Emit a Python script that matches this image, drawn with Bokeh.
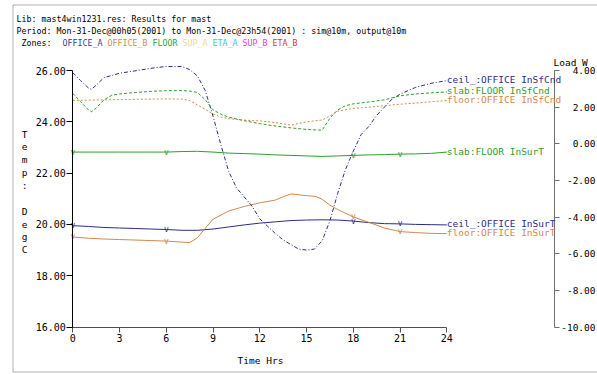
from bokeh.plotting import figure
from bokeh.models import Range1d, LinearAxis, Label, BoxAnnotation, FixedTicker, PrintfTickFormatter
from bokeh.embed import file_html
from bokeh.resources import INLINE
from bokeh.core.properties import value

MONO = "DejaVu Sans Mono"
NAVY = "#2b2b8c"
ORANGE = "#d4874c"
GREEN = "#2e9e2e"

# ---- data -------------------------------------------------------------
x_ticks = [0, 3, 6, 9, 12, 15, 18, 21, 24]
temp_ticks = [16, 18, 20, 22, 24, 26]
load_ticks = [-10, -8, -6, -4, -2, 0, 2, 4]
marker_hours = [0, 6, 18, 21]

# inside surface temperatures (degC, left axis)
ceil_insurt_h = list(range(25))
ceil_insurt = [19.95, 19.92, 19.88, 19.86, 19.84, 19.82, 19.80, 19.77, 19.77, 19.82,
               19.90, 19.98, 20.05, 20.10, 20.15, 20.17, 20.18, 20.17, 20.13, 20.07,
               20.03, 20.02, 20.00, 19.99, 19.98]

floor_insurt_h = [0, 1, 2, 3, 4, 5, 6, 7, 7.5, 8, 8.5, 9, 10, 11, 12, 13, 13.5, 14, 15,
                  15.6, 16, 16.5, 17, 18, 19, 20, 21, 22, 23, 24]
floor_insurt = [19.51, 19.46, 19.43, 19.41, 19.39, 19.37, 19.35, 19.31, 19.29, 19.48,
                19.85, 20.20, 20.52, 20.70, 20.84, 20.95, 21.08, 21.19, 21.12, 21.09,
                20.98, 20.75, 20.58, 20.29, 20.08, 19.86, 19.72, 19.68, 19.65, 19.64]

slab_insurt_h = list(range(25))
slab_insurt = [22.82, 22.82, 22.82, 22.82, 22.82, 22.82, 22.82, 22.84, 22.85, 22.82,
               22.78, 22.76, 22.74, 22.71, 22.69, 22.67, 22.65, 22.67, 22.69, 22.71,
               22.72, 22.74, 22.75, 22.77, 22.82]

# inside surface conduction (W, right axis)
ceil_insfcnd_h = [0, 0.5, 1.0, 1.2, 1.5, 2, 3, 4, 5, 6, 7, 7.5, 8, 8.5, 9, 9.5, 10, 10.5,
                  11, 11.5, 12, 12.5, 13, 13.5, 14, 14.5, 15, 15.5, 16, 16.5, 17, 17.5,
                  18, 18.5, 19, 19.5, 20, 20.5, 21, 21.5, 22, 23, 24]
ceil_insfcnd = [3.88, 3.45, 3.05, 2.97, 3.20, 3.61, 3.85, 3.98, 4.12, 4.22, 4.22, 4.05,
                3.70, 2.90, 1.50, -0.05, -1.50, -2.40, -2.90, -3.40, -4.10, -4.50, -4.90,
                -5.25, -5.50, -5.75, -5.80, -5.75, -5.30, -4.20, -2.70, -1.40, -0.40,
                0.50, 0.95, 1.55, 2.00, 2.45, 2.70, 2.90, 3.08, 3.30, 3.45]

slab_insfcnd_h = [0, 0.5, 1.0, 1.2, 1.5, 2, 2.5, 3, 4, 5, 6, 7, 7.5, 8, 8.5, 9, 9.5, 10,
                  11, 12, 13, 14, 15, 16, 16.5, 17, 17.5, 18, 19, 20, 21, 22, 23, 24]
slab_insfcnd = [2.75, 2.30, 1.85, 1.75, 1.95, 2.40, 2.65, 2.72, 2.80, 2.86, 2.90, 2.90,
                2.88, 2.80, 2.40, 1.85, 1.62, 1.45, 1.26, 1.10, 0.97, 0.87, 0.78, 0.74,
                1.40, 1.85, 2.08, 2.18, 2.28, 2.40, 2.62, 2.72, 2.78, 2.83]

floor_insfcnd_h = [0, 1, 2, 3, 4, 5, 6, 7, 7.5, 8, 8.5, 9, 9.5, 10, 11, 12, 13, 14, 15,
                   16, 16.5, 17, 18, 19, 20, 21, 22, 23, 24]
floor_insfcnd = [2.37, 2.38, 2.40, 2.41, 2.43, 2.44, 2.45, 2.44, 2.36, 2.12, 1.88, 1.62,
                 1.46, 1.37, 1.29, 1.25, 1.16, 1.02, 1.20, 1.30, 1.52, 1.78, 1.93, 2.00,
                 2.08, 2.16, 2.22, 2.30, 2.36]

zones = ["OFFICE_A", "OFFICE_B", "FLOOR", "SUP_A", "ETA_A", "SUP_B", "ETA_B"]
zone_colors = ["#3a3aa0", "#d88c50", "#30a030", "#f0d890", "#40c8c8", "#e040e0", "#d83838"]

header_lines = [
    "Lib: mast4win1231.res: Results for mast",
    "Period: Mon-31-Dec@00h05(2001) to Mon-31-Dec@23h54(2001) : sim@10m, output@10m",
]

# ---- geometry: the plot frame covers the whole canvas ------------------
W, H = 597, 374
X0_PX, PX_PER_HR = 72.3, 374 / 24.0          # where hour 0 sits, pixels per hour
T_TOP_PX, T_BOT_PX = 70.0, 326.5              # pixel rows of 26 degC and 16 degC
RIGHT_AXIS_PX = 553.7

x_start = -X0_PX / PX_PER_HR
x_end = (W - X0_PX) / PX_PER_HR
t_px = (T_BOT_PX - T_TOP_PX) / 10.0
t_range = (16 - (H - T_BOT_PX) / t_px, 26 + T_TOP_PX / t_px)
l_px = (T_BOT_PX - T_TOP_PX) / 14.0
l_range = (-10 - (H - T_BOT_PX) / l_px, 4 + T_TOP_PX / l_px)
right_axis_x = (RIGHT_AXIS_PX - X0_PX) / PX_PER_HR

p = figure(width=W, height=H, output_backend="svg", toolbar_location=None,
           x_range=Range1d(x_start, x_end), y_range=Range1d(*t_range),
           x_axis_location=None, y_axis_location=None,
           min_border=0, min_border_left=0, min_border_right=0,
           min_border_top=0, min_border_bottom=0,
           background_fill_color="white", border_fill_color="white",
           outline_line_color=None)
p.grid.visible = False
p.extra_y_ranges = {"load": Range1d(*l_range)}


def style_axis(ax, line_color, tick_out, size="10px", standoff=2):
    ax.major_tick_in = 0
    ax.major_tick_out = tick_out
    ax.minor_tick_line_color = None
    ax.axis_line_color = line_color
    ax.major_tick_line_color = line_color
    ax.major_label_text_font = MONO
    ax.major_label_text_font_size = size
    ax.major_label_text_color = "black"
    ax.major_label_standoff = standoff


xa = LinearAxis(fixed_location=16, bounds=(0, 24), ticker=FixedTicker(ticks=x_ticks))
style_axis(xa, "#505050", 5)
p.add_layout(xa, "below")

ya = LinearAxis(fixed_location=0, bounds=(16, 26), ticker=FixedTicker(ticks=temp_ticks),
                formatter=PrintfTickFormatter(format="%.2f"))
style_axis(ya, "black", 6, standoff=1)
p.add_layout(ya, "left")

load_labels = {t: ("%.2f" % t).rjust(6).replace(" ", "\u00a0") for t in load_ticks}
ra = LinearAxis(y_range_name="load", fixed_location=right_axis_x, bounds=(-10, 4),
                ticker=FixedTicker(ticks=load_ticks), major_label_overrides=load_labels)
style_axis(ra, "#707070", 5, size="9.5px", standoff=2)
p.add_layout(ra, "right")


def scr(cx, cy):
    """canvas pixel (top-left origin) -> screen units (bottom-left origin)"""
    return cx, H - cy


# outer frame
bl, bb = scr(12.5, 371.5)
br, bt = scr(640, 4.5)
p.add_layout(BoxAnnotation(left=bl, right=br, top=bt, bottom=bb,
                           left_units="screen", right_units="screen",
                           top_units="screen", bottom_units="screen",
                           fill_color=None, line_color="black", line_width=1))


def text_label(cx, cy, txt, size="8.3px", color="black", **kw):
    x, y = scr(cx, cy)
    p.add_layout(Label(x=x, y=y, x_units="screen", y_units="screen", text=txt,
                       text_font=MONO, text_font_size=size, text_color=color,
                       text_baseline=kw.pop("text_baseline", "alphabetic"), **kw))


# header text
for i, line in enumerate(header_lines):
    text_label(16, 18.5 + 12.2 * i, line)
text_label(21, 42.7, "Zones:")
col = 9
for name, c in zip(zones, zone_colors):
    text_label(17 + 5.0 * col, 42.7, name, color=c)
    col += len(name) + 1

# axis titles
text_label(553, 62, "Load W", size="9.5px")
text_label(260, 360, "Time Hrs", size="9.5px", text_align="center")
text_label(24, 128, "\n".join(list("Temp:") + ["\u00a0"] + list("DegC")), size="9.5px",
           text_align="center", text_baseline="top", text_line_height=1.17)

# ---- series -----------------------------------------------------------
temp_series = [
    (ceil_insurt_h, ceil_insurt, NAVY, "ceil_:OFFICE InSurT"),
    (floor_insurt_h, floor_insurt, ORANGE, "floor:OFFICE InSurT"),
    (slab_insurt_h, slab_insurt, GREEN, "slab:FLOOR InSurT"),
]
load_series = [
    (ceil_insfcnd_h, ceil_insfcnd, NAVY, "4 2 1 2", "ceil_:OFFICE InSfCnd"),
    (slab_insfcnd_h, slab_insfcnd, GREEN, "3 2", "slab:FLOOR InSfCnd"),
    (floor_insfcnd_h, floor_insfcnd, ORANGE, "2 2", "floor:OFFICE InSfCnd"),
]

for hrs, vals, c, name in temp_series:
    p.line(hrs, vals, line_color=c, line_width=1)
    lookup = dict(zip(hrs, vals))
    mx = [h for h in marker_hours if h in lookup]
    p.text(mx, [lookup[h] for h in mx], text=["v"] * len(mx),
           text_font=value(MONO), text_font_size="8px", text_color=c,
           text_align="center", text_baseline="middle")
    p.add_layout(Label(x=hrs[-1], y=vals[-1], text=name, text_font=MONO,
                       text_font_size="9.5px", text_color=c,
                       text_baseline="alphabetic", x_offset=0, y_offset=1))

for hrs, vals, c, dash, name in load_series:
    p.line(hrs, vals, line_color=c, line_width=1, line_dash=dash, y_range_name="load")
    p.add_layout(Label(x=hrs[-1], y=vals[-1], y_range_name="load", text=name,
                       text_font=MONO, text_font_size="9.5px", text_color=c,
                       text_baseline="alphabetic", x_offset=0, y_offset=1))

open("out.html", "w").write(file_html(p, INLINE))
